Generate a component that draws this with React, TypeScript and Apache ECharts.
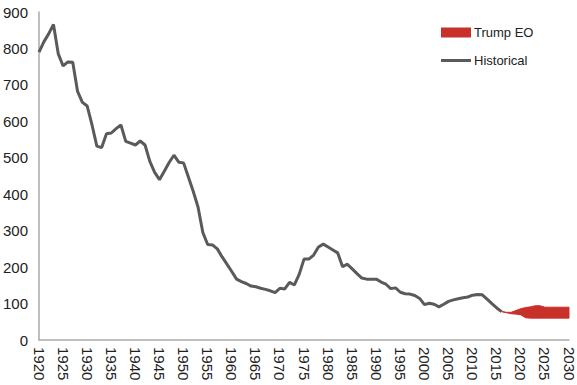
import React, { useEffect, useRef } from "react";
import * as echarts from "echarts";

const historicalYears: number[] = [
  1920, 1921, 1922, 1923, 1924, 1925, 1926, 1927, 1928, 1929,
  1930, 1931, 1932, 1933, 1934, 1935, 1936, 1937, 1938, 1939,
  1940, 1941, 1942, 1943, 1944, 1945, 1946, 1947, 1948, 1949,
  1950, 1951, 1952, 1953, 1954, 1955, 1956, 1957, 1958, 1959,
  1960, 1961, 1962, 1963, 1964, 1965, 1966, 1967, 1968, 1969,
  1970, 1971, 1972, 1973, 1974, 1975, 1976, 1977, 1978, 1979,
  1980, 1981, 1982, 1983, 1984, 1985, 1986, 1987, 1988, 1989,
  1990, 1991, 1992, 1993, 1994, 1995, 1996, 1997, 1998, 1999,
  2000, 2001, 2002, 2003, 2004, 2005, 2006, 2007, 2008, 2009,
  2010, 2011, 2012, 2013, 2014, 2015, 2016,
];
const historicalValues: number[] = [
  790, 818, 840, 866, 785, 752, 763, 762, 682, 652,
  642, 590, 532, 528, 566, 568, 580, 590, 545, 540,
  535, 546, 535, 490, 460, 440, 463, 487, 507, 488,
  486, 447, 408, 365, 295, 262, 261, 250, 228, 208,
  188, 167, 160, 155, 148, 146, 142, 139, 135, 130,
  142, 140, 158, 151, 180, 222, 222, 233, 255, 263,
  255, 247, 239, 201, 208, 195, 182, 170, 167, 167,
  167, 159, 153, 141, 143, 131, 127, 126, 122, 114,
  97, 101, 98, 91, 98, 106, 110, 113, 116, 118,
  123, 125, 124, 112, 100, 88, 78,
];

const eoYears: number[] = [2016, 2017, 2018, 2019, 2020, 2021, 2022, 2023, 2024, 2025, 2026, 2027, 2028, 2029, 2030];
const eoLow: number[] = [78, 75, 72, 71, 69, 61, 60, 60, 60, 60, 60, 60, 60, 60, 60];
const eoHigh: number[] = [78, 76, 76, 81, 86, 89, 91, 94, 94, 90, 90, 90, 90, 90, 90];

const xMin = 1920;
const xMax = 2030;
const yTicks: number[] = [0, 100, 200, 300, 400, 500, 600, 700, 800, 900];

const RED = "#c8302a";
const GREY = "#5a5a5a";

export default function App() {
  const ref = useRef<HTMLDivElement>(null);
  useEffect(() => {
    if (!ref.current) return;
    const chart = echarts.init(ref.current, undefined, { renderer: "svg" });
    const font = "'Liberation Sans', Arial, sans-serif";
    chart.setOption({
      animation: false,
      textStyle: { fontFamily: font },
      grid: { left: 38, right: 8, top: 12, bottom: 45, containLabel: false },
      legend: {
        orient: "vertical",
        left: 436,
        top: 21,
        itemWidth: 30,
        itemHeight: 10,
        itemGap: 15,
        textStyle: { fontSize: 13, color: "#222", fontFamily: font, padding: [0, 0, 0, -2] },
        data: [
          { name: "Trump EO", icon: "rect", itemStyle: { color: RED } },
          { name: "Historical", icon: "path://M0,0 L30,0 L30,3 L0,3 Z", itemStyle: { color: GREY } },
        ],
      },
      xAxis: {
        type: "value",
        min: xMin,
        max: xMax,
        interval: 5,
        axisLine: { show: true, lineStyle: { color: "#aaaaaa", width: 1.5 } },
        axisTick: { show: false },
        splitLine: { show: false },
        axisLabel: {
          rotate: -90,
          fontSize: 15,
          color: "#222",
          margin: 7,
          fontFamily: font,
          formatter: (v: number) => String(v),
          showMinLabel: true,
          showMaxLabel: true,
        },
      },
      yAxis: {
        type: "value",
        min: yTicks[0],
        max: yTicks[yTicks.length - 1],
        interval: 100,
        axisLine: { show: true, lineStyle: { color: "#aaaaaa", width: 1.5 } },
        axisTick: { show: false },
        splitLine: { show: false },
        axisLabel: { fontSize: 15, color: "#222", margin: 11, fontFamily: font },
      },
      series: [
        {
          name: "Historical",
          type: "line",
          symbol: "none",
          data: historicalYears.map((y, i) => [y, historicalValues[i]]),
          lineStyle: { color: GREY, width: 3 },
          itemStyle: { color: GREY },
          z: 3,
        },
        {
          name: "Trump EO",
          type: "custom",
          itemStyle: { color: RED },
          data: [[eoYears[0], eoLow[0]]],
          renderItem: (params: any, api: any) => {
            const pts: number[][] = [];
            for (let i = 0; i < eoYears.length; i++) pts.push(api.coord([eoYears[i], eoHigh[i]]));
            for (let i = eoYears.length - 1; i >= 0; i--) pts.push(api.coord([eoYears[i], eoLow[i]]));
            return {
              type: "polygon",
              shape: { points: pts },
              style: { fill: RED, stroke: RED, lineWidth: 1 },
            };
          },
          z: 4,
        },
      ],
    });
    return () => chart.dispose();
  }, []);
  return <div ref={ref} style={{ width: 577, height: 385, position: "absolute", left: 0, top: 0 }} />;
}
